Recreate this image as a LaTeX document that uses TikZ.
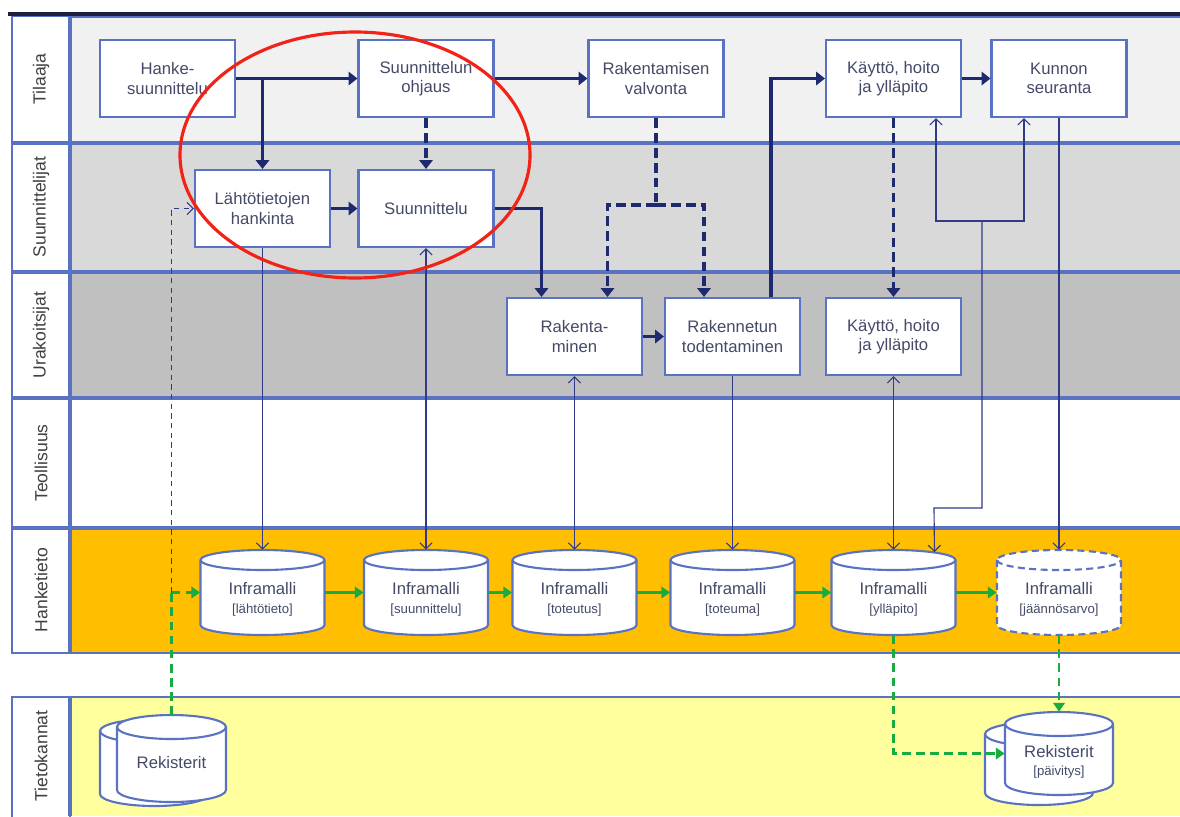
\documentclass[tikz,border=0pt]{standalone}
\usepackage{fontspec}
\setmainfont{Liberation Sans}
\usetikzlibrary{arrows.meta}
\definecolor{frameblue}{RGB}{90,114,194}
\definecolor{navyflow}{RGB}{30,42,112}
\definecolor{thinflow}{RGB}{48,58,135}
\definecolor{inktext}{RGB}{68,74,104}
\definecolor{feedgreen}{RGB}{24,172,64}
\definecolor{tilaajagrey}{RGB}{241,241,241}
\definecolor{suunngrey}{RGB}{217,217,217}
\definecolor{urakgrey}{RGB}{192,192,192}
\definecolor{hankeorange}{RGB}{255,190,0}
\definecolor{tietoyellow}{RGB}{255,255,158}
\definecolor{topdark}{RGB}{28,32,62}
\definecolor{markred}{RGB}{242,34,22}
\def\drumtag{\fontsize{7.5}{9}\selectfont}
\def\drum[#1](#2,#3)(#4:#5:#6){\draw[#1] (#2-#4,#3+#6) -- (#2-#4,#3-#6) arc (180:360:#4 and #5) -- (#2+#4,#3+#6) arc (0:180:#4 and #5) -- cycle;
	\draw[#1,fill=none] (#2-#4,#3+#6) arc (180:360:#4 and #5);}

\begin{document}
\begin{tikzpicture}[x=0.02cm, y=0.02cm,
	box/.style={draw=frameblue, line width=1.2pt, fill=white, minimum width=2.7cm, minimum height=1.54cm, align=center, text=inktext, inner sep=1pt, font=\fontsize{9.5}{11}\selectfont},
	lanelabel/.style={rotate=90, text=black!75, font=\fontsize{10}{12}\selectfont},
	lanerule/.style={draw=frameblue, line width=1.1pt},
	lanesep/.style={draw=frameblue, line width=2.4pt},
	drumline/.style={draw=frameblue, line width=1.2pt, fill=white},
	drumdash/.style={drumline, dash pattern=on 4pt off 2.5pt},
	drumbody/.style={inner sep=0pt, minimum width=2.48cm, minimum height=1.7cm},
	drumtext/.style={align=center, text=inktext, inner sep=0pt, font=\fontsize{9.5}{10.5}\selectfont},
	flow/.style={draw=navyflow, line width=2pt, -{Triangle[length=5pt,width=7.5pt]}},
	flowdash/.style={flow, dash pattern=on 5.5pt off 3pt},
	link/.style={draw=thinflow, line width=0.65pt, -{Straight Barb[length=3.5pt,width=7pt]}},
	bilink/.style={link, {Straight Barb[length=3.5pt,width=7pt]}-{Straight Barb[length=3.5pt,width=7pt]}},
	linkdash/.style={link, dash pattern=on 3pt off 2.5pt},
	feed/.style={draw=feedgreen, line width=1.5pt, dash pattern=on 5pt off 3pt, -{Triangle[length=5pt,width=6.5pt]}},
	feedsolid/.style={draw=feedgreen, line width=1.5pt, -{Triangle[length=5pt,width=6.5pt]}}]
	\useasboundingbox (0,0) rectangle (1180,-816);
	%%%%% LANES %%%%%
	\fill[tilaajagrey] (70,-16) rectangle (1180,-143);
	\fill[suunngrey] (70,-143) rectangle (1180,-272);
	\fill[urakgrey] (70,-272) rectangle (1180,-398);
	\fill[white] (70,-398) rectangle (1180,-528);
	\fill[hankeorange] (70,-528) rectangle (1180,-653);
	\fill[tietoyellow] (70,-697) rectangle (1180,-816);
	
	\draw[lanerule, fill=white] (12,-16) rectangle (70,-653);
	\draw[lanerule, fill=white] (12,-697) rectangle (70,-830);
	\draw[lanerule] (70,-17) -- (1180,-17);
	\draw[lanerule] (70,-653) -- (1180,-653);
	\draw[lanerule] (70,-697) -- (1180,-697);
	\draw[lanesep] (12,-143) -- (1180,-143);
	\draw[lanesep] (12,-272) -- (1180,-272);
	\draw[lanesep] (12,-398) -- (1180,-398);
	\draw[lanesep] (12,-528) -- (1180,-528);
	\draw[lanesep] (70,-16) -- (70,-653);
	\draw[lanesep] (70,-697) -- (70,-816);
	\draw[topdark, line width=1.8pt] (8,-14) -- (1180,-14);
	
	\node[lanelabel] (tilaaja) at (41,-79) {Tilaaja};
	\node[lanelabel] (suunnittelijat) at (41,-207) {Suunnittelijat};
	\node[lanelabel] (urakoitsijat) at (41,-335) {Urakoitsijat};
	\node[lanelabel] (teollisuus) at (41,-463) {Teollisuus};
	\node[lanelabel] (hanketieto) at (41,-590) {Hanketieto};
	\node[lanelabel] (tietokannat) at (41,-756) {Tietokannat};
	
	%%%%% BOXES %%%%%
	\node[box] (hanke) at (167.5,-78.5) {Hanke-\\suunnittelu};
	\node[box] (ohjaus) at (426,-78.5) {Suunnittelun\\ohjaus};
	\node[box] (valvonta) at (656,-78.5) {Rakentamisen\\valvonta};
	\node[box] (kaytto) at (893.5,-78.5) {Käyttö, hoito\\ja ylläpito};
	\node[box] (kunto) at (1059,-78.5) {Kunnon\\seuranta};
	\node[box] (lahto) at (262.5,-208.5) {Lähtötietojen\\hankinta};
	\node[box] (suunn) at (426,-208.5) {Suunnittelu};
	\node[box] (rakent) at (574.5,-336.5) {Rakenta-\\minen};
	\node[box] (todent) at (732.5,-336.5) {Rakennetun\\todentaminen};
	\node[box] (yllapito) at (893.5,-336.5) {Käyttö, hoito\\ja ylläpito};
	
	%%%%% DRUMS %%%%%
	\drum[drumline](262.5,-592.5)(62:10:32.5);
	\drum[drumline](426,-592.5)(62:10:32.5);
	\drum[drumline](574.5,-592.5)(62:10:32.5);
	\drum[drumline](732.5,-592.5)(62:10:32.5);
	\drum[drumline](893.5,-592.5)(62:10:32.5);
	\drum[drumdash](1059,-592.5)(62:10:32.5);
	\drum[drumline](154.5,-762.5)(54.5:12:31.5);
	\drum[drumline](171.5,-758.5)(54.5:12:31.5);
	\drum[drumline](1039,-763.5)(54:12:29.5);
	\drum[drumline](1059,-753.5)(54:12:29.5);
	
	\node[drumbody] (m1) at (262.5,-592.5) {};
	\node[drumbody] (m2) at (426,-592.5) {};
	\node[drumbody] (m3) at (574.5,-592.5) {};
	\node[drumbody] (m4) at (732.5,-592.5) {};
	\node[drumbody] (m5) at (893.5,-592.5) {};
	\node[drumbody] (m6) at (1059,-592.5) {};
	\node[drumbody, minimum width=2.18cm, minimum height=1.74cm] (r1) at (171.5,-758.5) {};
	\node[drumbody, minimum width=2.16cm, minimum height=1.66cm] (r2) at (1059,-753.5) {};
	
	\node[drumtext] (m1t) at ([yshift=-0.14cm]m1) {Inframalli\\{\drumtag [lähtötieto]}};
	\node[drumtext] (m2t) at ([yshift=-0.14cm]m2) {Inframalli\\{\drumtag [suunnittelu]}};
	\node[drumtext] (m3t) at ([yshift=-0.14cm]m3) {Inframalli\\{\drumtag [toteutus]}};
	\node[drumtext] (m4t) at ([yshift=-0.14cm]m4) {Inframalli\\{\drumtag [toteuma]}};
	\node[drumtext] (m5t) at ([yshift=-0.14cm]m5) {Inframalli\\{\drumtag [ylläpito]}};
	\node[drumtext] (m6t) at ([yshift=-0.14cm]m6) {Inframalli\\{\drumtag [jäännösarvo]}};
	\node[drumtext] (r1t) at ([yshift=-0.08cm]r1) {Rekisterit};
	\node[drumtext] (r2t) at ([yshift=-0.17cm]r2) {Rekisterit\\{\drumtag [päivitys]}};
	
	%%%%% FLOWS %%%%%
	\draw[flow] (hanke) -- (ohjaus);
	\draw[flow] (hanke.east -| lahto.north) -- (lahto.north);
	\draw[flow] (ohjaus) -- (valvonta);
	\draw[flow] (lahto) -- (suunn);
	\draw[flow] (suunn.east) -| ([xshift=-0.66cm]rakent.north);
	\draw[flow] (rakent) -- (todent);
	\draw[flow] ([xshift=0.77cm]todent.north) |- (kaytto.west);
	\draw[flow] (kaytto) -- (kunto);
	
	\draw[flowdash] (ohjaus) -- (suunn);
	\coordinate (split) at (656,-205);
	\draw[flowdash, -] (valvonta.south) -- (split);
	\draw[flowdash] (split) -| ([xshift=0.66cm]rakent.north);
	\draw[flowdash] (split) -| ([xshift=-0.57cm]todent.north);
	\draw[flowdash] (kaytto) -- (yllapito);
	
	%%%%% LINKS %%%%%
	\draw[link] (lahto) -- (m1);
	\draw[bilink] (suunn) -- (m2);
	\draw[bilink] (rakent) -- (m3);
	\draw[link] (todent) -- (m4);
	\draw[bilink] (yllapito) -- (m5);
	\draw[link] (kunto) -- (m6);
	
	\coordinate (fork) at (982,-221);
	\coordinate (bend) at (934,-508);
	\draw[link] (fork) -| ([xshift=0.85cm]kaytto.south);
	\draw[link] (fork) -| ([xshift=-0.7cm]kunto.south);
	\draw[link] (fork) |- (bend) -- ([xshift=0.82cm,yshift=-0.05cm]m5.north);
	
	\coordinate (junc) at (171.5,-592.5);
	\draw[linkdash] (junc) |- (lahto.west);
	
	%%%%% FEEDS %%%%%
	\draw[feed, -] (r1.north) -- (junc);
	\draw[feed] (junc) -- (m1.west);
	\draw[feedsolid] (m1) -- (m2);
	\draw[feedsolid] (m2) -- (m3);
	\draw[feedsolid] (m3) -- (m4);
	\draw[feedsolid] (m4) -- (m5);
	\draw[feedsolid] (m5) -- (m6);
	\draw[feed] (m5.south) |- (r2.west);
	\draw[feed] (m6.south) -- (r2.north);
	
	%%%%% MARK %%%%%
	\draw[markred, line width=1.8pt] (355,-155) ellipse (175 and 123);
\end{tikzpicture}
\end{document}
